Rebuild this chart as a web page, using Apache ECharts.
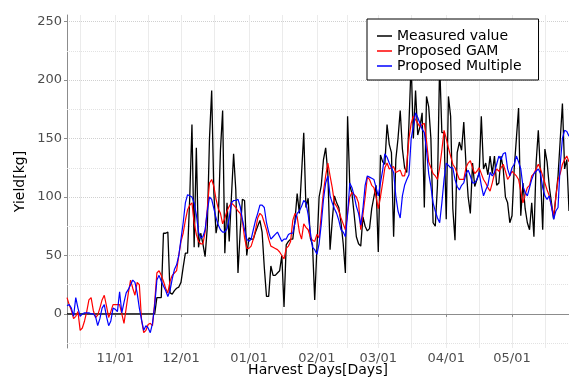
<!DOCTYPE html>
<html>
<head>
<meta charset="utf-8">
<script src="https://cdn.jsdelivr.net/npm/echarts@6/dist/echarts.min.js"></script>
<style>
  html, body { margin: 0; padding: 0; background: #fff; }
  #yieldChart { width: 569px; height: 379px; }
</style>
</head>
<body>
<div id="yieldChart"></div>
<script>
// harvest days: 10/10 .. 05/27
var startDay = Date.UTC(2018, 9, 10);
var dayCount = 230;
var days = [];
for (var i = 0; i < dayCount; i++) {
  var d = new Date(startDay + i * 86400000);
  var mm = ('0' + (d.getUTCMonth() + 1)).slice(-2);
  var dd = ('0' + d.getUTCDate()).slice(-2);
  days.push(mm + '/' + dd);
}

// measured yield per day
var measured = [
  0,0,0,0,0,0,0,0,0,0,
  0,0,0,0,0,0,0,0,0,0,
  0,0,0,0,0,0,0,0,0,0,
  0,0,0,0,0,0,0,0,0,0,
  0,14,14,14,69,69,70,18,17,20,
  22,23,27,40,52,52,100,162,57,142,
  57,69,60,49,74,150,191,103,69,80,
  140,174,52,95,62,100,137,106,35,70,
  98,97,50,65,64,64,70,75,80,70,
  40,15,15,41,33,33,35,37,50,6,
  59,62,64,64,80,103,86,120,155,91,
  99,65,59,12,56,100,110,132,142,120,
  55,80,101,95,91,78,60,35,169,110,
  103,85,66,60,58,83,75,71,73,90,
  100,110,53,136,130,128,162,145,138,66,
  132,150,174,141,125,121,163,215,150,191,
  153,160,172,91,186,177,150,78,75,110,
  215,155,155,81,186,169,90,63,138,147,
  140,164,128,100,86,129,109,115,120,169,
  124,129,119,135,120,135,110,112,135,124,
  100,95,78,84,124,150,176,84,112,90,
  78,72,95,66,129,157,120,72,141,130,
  109,95,81,100,118,149,180,124,132,88
];

// proposed GAM
var gam = [
  14,8,3,-4,-2,2,-14,-12,-6,2,
  12,14,3,-3,-1,5,12,16,7,-3,
  2,8,8,8,8,0,-8,5,18,29,
  22,16,27,25,-5,-16,-14,-9,-8,-10,
  10,35,37,33,28,22,18,28,33,35,
  37,50,62,69,80,89,93,95,78,68,
  62,60,60,70,90,112,115,109,98,90,
  86,77,82,88,92,95,93,91,88,86,
  80,65,56,56,58,64,72,82,86,84,
  78,72,64,58,57,56,55,53,50,47,
  56,58,62,80,86,83,70,64,77,74,
  72,66,63,62,68,65,85,105,118,129,
  118,108,95,92,88,82,77,72,86,100,
  104,102,100,95,72,85,100,117,115,110,
  108,100,90,100,112,125,129,124,125,126,
  121,122,123,118,118,128,150,163,169,166,
  163,160,162,163,148,130,125,120,118,115,
  125,140,157,150,142,135,128,125,120,115,
  115,115,125,129,131,125,120,122,125,120,
  115,112,108,105,112,120,124,122,125,128,
  122,115,118,122,120,118,115,105,95,102,
  108,110,118,120,124,128,124,118,112,106,
  101,92,84,100,115,120,128,132,135,130
];

// proposed multiple regression
var multiple = [
  7,8,5,-2,14,5,-2,0,1,1,
  1,0,0,-2,-10,-4,5,8,-2,-10,
  -6,5,4,2,19,1,10,18,21,25,
  29,27,18,5,-5,-14,-10,-12,-16,-8,
  7,29,33,28,24,20,15,20,30,38,
  42,50,64,78,95,102,101,100,95,85,
  70,65,66,72,88,100,98,90,82,76,
  72,70,70,73,82,95,97,97,98,92,
  81,72,64,62,64,72,80,86,93,93,
  91,78,70,64,66,68,70,66,62,64,
  64,68,69,69,78,86,88,92,97,95,
  85,70,57,55,51,60,77,98,112,118,
  101,95,90,86,80,72,70,66,85,112,
  108,101,92,86,76,90,110,118,117,116,
  115,108,101,112,123,137,134,129,125,121,
  101,88,82,101,110,115,119,150,160,172,
  168,163,158,155,140,120,109,95,88,82,
  78,95,115,129,127,125,125,115,109,106,
  110,112,120,123,118,112,112,115,121,110,
  101,106,110,121,118,121,128,135,132,137,
  138,124,118,125,128,135,130,124,109,104,
  101,108,115,120,122,124,120,108,101,98,
  101,92,81,88,91,128,150,157,156,152
];

var seriesNames = ['Measured value', 'Proposed GAM', 'Proposed Multiple'];
var yTicks = [0, 50, 100, 150, 200, 250];
var yMinor = [-25, 25, 75, 125, 175, 225];

var font = 'DejaVu Sans';
var isMonthStart = function (idx, val) { return val.slice(3) === '01'; };
// month starts plus mid-month minor lines
var isGridDay = function (idx, val) {
  var day = val.slice(3);
  return day === '01' || day === '16' && val.slice(0, 2) !== '02' || val === '02/15';
};

var myChart = echarts.init(document.getElementById('yieldChart'));
var option = {
  animation: false,
  backgroundColor: '#fff',
  grid: { left: 67, right: 0, top: 15, bottom: 31, containLabel: false, outerBoundsMode: 'none' },
  legend: {
    orient: 'vertical',
    left: 367,
    top: 19,
    data: seriesNames,
    icon: 'rect',
    backgroundColor: '#fff',
    borderColor: '#000',
    borderWidth: 1,
    borderRadius: 0,
    padding: [10, 17, 7, 10],
    itemWidth: 15,
    itemHeight: 1.5,
    itemGap: 1,
    textStyle: { fontFamily: font, fontSize: 14, lineHeight: 14, color: '#000' }
  },
  xAxis: {
    type: 'category',
    data: days,
    boundaryGap: false,
    name: 'Harvest Days[Days]',
    nameLocation: 'middle',
    nameGap: 15,
    nameMoveOverlap: false,
    nameTextStyle: { fontFamily: font, fontSize: 14, color: '#000' },
    axisLine: { show: true, lineStyle: { color: '#8c8c8c', width: 1 } },
    axisTick: { show: true, interval: isMonthStart, length: 3, lineStyle: { color: '#8c8c8c' } },
    axisLabel: { interval: isMonthStart, margin: 4, fontFamily: font, fontSize: 13, color: '#4d4d4d' },
    splitLine: { show: true, interval: isGridDay, lineStyle: { color: '#ebebeb', width: 1 } }
  },
  yAxis: {
    type: 'value',
    min: -29.1,
    max: 255.6,
    name: 'Yield[kg]',
    nameLocation: 'middle',
    nameGap: 40,
    nameMoveOverlap: false,
    nameTextStyle: { fontFamily: font, fontSize: 14, color: '#000' },
    axisLine: { show: true, lineStyle: { color: '#8c8c8c', width: 1 } },
    axisTick: { show: true, length: 3, customValues: yTicks, lineStyle: { color: '#8c8c8c' } },
    axisLabel: { customValues: yTicks, margin: 5, fontFamily: font, fontSize: 13, color: '#4d4d4d' },
    splitLine: { show: true, lineStyle: { type: 'dotted', color: '#d0d0d0', width: 1 } }
  },
  series: [
    {
      name: seriesNames[0],
      type: 'line',
      data: measured,
      symbol: 'none',
      color: '#000',
      lineStyle: { color: '#000', width: 1.3 },
      markLine: {
        silent: true,
        symbol: 'none',
        z: 1,
        label: { show: false },
        lineStyle: { type: 'dotted', color: '#e2e2e2', width: 1 },
        emphasis: { disabled: true },
        data: yMinor.map(function (v) { return { yAxis: v }; })
      }
    },
    {
      name: seriesNames[1],
      type: 'line',
      data: gam,
      symbol: 'none',
      color: '#ff0000',
      lineStyle: { color: '#ff0000', width: 1.2 }
    },
    {
      name: seriesNames[2],
      type: 'line',
      data: multiple,
      symbol: 'none',
      color: '#0000ff',
      lineStyle: { color: '#0000ff', width: 1.2 }
    }
  ]
};
myChart.setOption(option);
</script>
</body>
</html>
